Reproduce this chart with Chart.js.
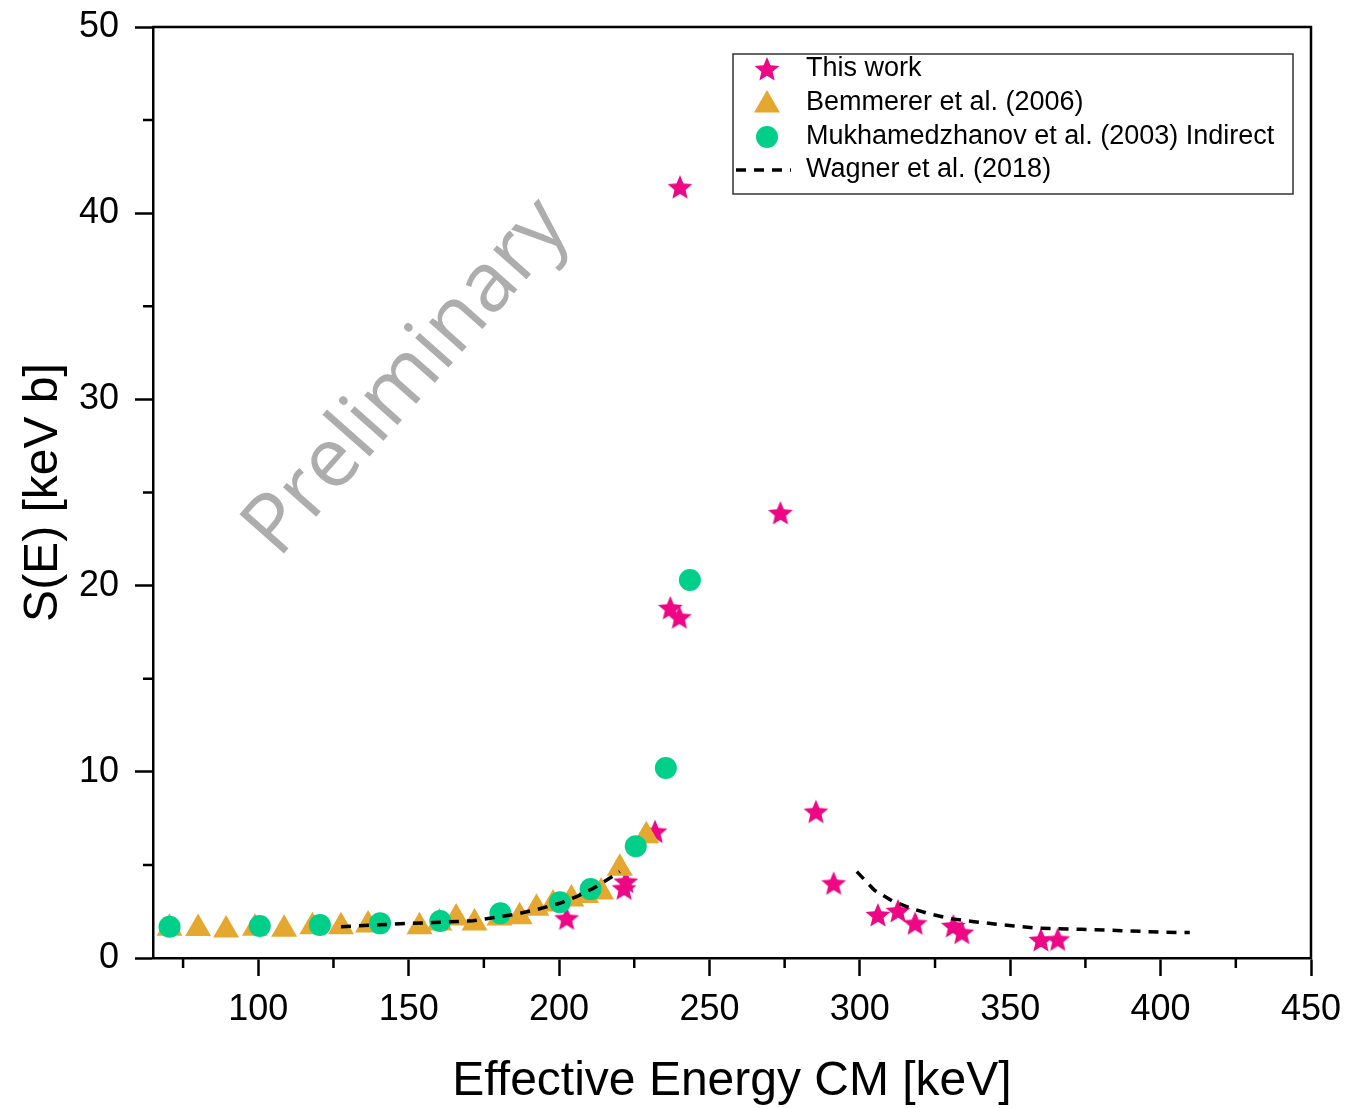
<!DOCTYPE html>
<html lang="en">
  <head>
    <meta charset="UTF-8" />
    <title>S(E) vs effective energy</title>
    <script src="https://cdn.jsdelivr.net/npm/chart.js"></script>
    <style>
      body { margin: 0; background: #fff; }
      #wrap { width: 1350px; height: 1108px; }
    </style>
  </head>
  <body>
    <div id="wrap">
      <canvas id="sfactor-chart" width="1350" height="1108"></canvas>
    </div>

    <script>
      // This work
      const thisWorkE = [202.5, 221.6, 222.2, 231.9, 237, 240, 240.2, 273.6, 285.4, 291.3, 306, 312.7, 318.4, 331.1, 333.9, 360.2, 365.8];
      const thisWorkS = [2.13, 3.74, 4.1, 6.79, 18.8, 18.3, 41.4, 23.9, 7.86, 4.01, 2.31, 2.53, 1.86, 1.72, 1.36, 0.97, 1.0];

      // Bemmerer et al. (2006)
      const bemmererE = [70.5, 80, 89.3, 98.9, 108.6, 118, 127.5, 136.5, 153.6, 160.2, 165.8, 171.9, 180.2, 186.9, 192.5, 198, 204.1, 209, 214, 220.2, 229];
      const bemmererS = [1.6, 1.59, 1.5, 1.6, 1.54, 1.68, 1.68, 1.77, 1.68, 1.88, 2.15, 1.88, 2.15, 2.22, 2.67, 2.9, 3.17, 3.35, 3.55, 4.82, 6.57];

      // Mukhamedzhanov et al. (2003), indirect
      const mukhE = [70.5, 100.5, 120.5, 140.5, 160.5, 180.5, 200.3, 210.5, 225.5, 235.5, 243.5];
      const mukhS = [1.68, 1.72, 1.77, 1.86, 1.99, 2.4, 3.0, 3.7, 6.0, 10.2, 20.3];

      // Wagner et al. (2018), below and above the resonance
      const wagnerLowE = [127.5, 140, 149.2, 158, 171.3, 179.1, 185.8, 192, 200.2, 205.8, 211.3, 216, 220.2];
      const wagnerLowS = [1.68, 1.78, 1.86, 1.9, 2.0, 2.19, 2.36, 2.58, 2.94, 3.29, 3.74, 4.2, 4.64];
      const wagnerHighE = [299, 304.8, 310.8, 317, 323.6, 330.8, 338, 344.7, 351.3, 359.1, 373.6, 387, 401.3, 409.7];
      const wagnerHighS = [4.64, 3.65, 3.06, 2.67, 2.35, 2.1, 1.95, 1.83, 1.72, 1.6, 1.54, 1.47, 1.38, 1.37];

      const xTicks = [100, 150, 200, 250, 300, 350, 400, 450];
      const xMinor = [75, 125, 175, 225, 275, 325, 375, 425];
      const yTicks = [0, 10, 20, 30, 40, 50];
      const yMinor = [5, 15, 25, 35, 45];

      const FONT = "'Liberation Sans', Arial, sans-serif";
      const STAR = "#ee0684";
      const GOLD = "#e4a830";
      const GREEN = "#00cf8a";

      // filled five-point star used as a point style
      function makeStar(r, color) {
        const s = Math.ceil(r * 2 + 2);
        const c = document.createElement("canvas");
        c.width = s;
        c.height = s;
        const g = c.getContext("2d");
        g.fillStyle = color;
        g.beginPath();
        for (let i = 0; i < 10; i++) {
          const rad = i % 2 ? r * 0.45 : r;
          const a = -Math.PI / 2 + (i * Math.PI) / 5;
          g.lineTo(s / 2 + rad * Math.cos(a), s / 2 + 1 + rad * Math.sin(a));
        }
        g.closePath();
        g.fill();
        return c;
      }
      const starImg = makeStar(13, STAR);

      const pts = (xs, ys) => xs.map((x, i) => ({ x: x, y: ys[i] }));
      const wagnerData = pts(wagnerLowE, wagnerLowS)
        .concat([{ x: 260, y: null }])
        .concat(pts(wagnerHighE, wagnerHighS));

      // minor ticks, the box frame and the watermark
      const extras = {
        id: "extras",
        beforeDatasetsDraw(chart) {
          const { ctx, scales } = chart;
          const px = scales.x.getPixelForValue(149.6);
          const py = scales.y.getPixelForValue(31.15);
          ctx.save();
          ctx.translate(px, py);
          ctx.rotate((-48.5 * Math.PI) / 180);
          ctx.font = "83px 'Open Sans', sans-serif";
          ctx.fillStyle = "#adadad";
          ctx.textAlign = "center";
          ctx.textBaseline = "middle";
          ctx.fillText("Preliminary", 0, 0);
          ctx.restore();
        },
        afterDraw(chart) {
          const { ctx, chartArea: a, scales } = chart;
          ctx.save();
          ctx.strokeStyle = "#000";
          ctx.lineWidth = 2.5;
          ctx.beginPath();
          xMinor.forEach((v) => {
            const p = scales.x.getPixelForValue(v);
            ctx.moveTo(p, a.bottom);
            ctx.lineTo(p, a.bottom + 10);
          });
          yMinor.forEach((v) => {
            const p = scales.y.getPixelForValue(v);
            ctx.moveTo(a.left, p);
            ctx.lineTo(a.left - 10, p);
          });
          ctx.moveTo(a.left - 1, a.top);
          ctx.lineTo(a.right, a.top);
          ctx.lineTo(a.right, a.bottom + 1);
          ctx.stroke();
          ctx.restore();
        },
      };

      // legend box in the upper right of the plot
      const boxLegend = {
        id: "boxLegend",
        afterDraw(chart) {
          const { ctx, chartArea: a } = chart;
          const w = 560, h = 140;
          const left = a.right - 18 - w;
          const top = a.top + 27;
          ctx.save();
          ctx.strokeStyle = "#333";
          ctx.lineWidth = 1.5;
          ctx.strokeRect(left, top, w, h);
          const rows = [15, 49, 83, 116];
          const sx = left + 34;
          ctx.font = "27px " + FONT;
          ctx.fillStyle = "#000";
          ctx.textBaseline = "middle";
          chart.data.datasets.forEach((ds, i) => {
            const y = top + rows[i];
            if (ds.pointStyle instanceof HTMLCanvasElement) {
              ctx.drawImage(ds.pointStyle, sx - ds.pointStyle.width / 2, y - ds.pointStyle.height / 2);
            } else if (ds.pointStyle === "triangle") {
              const r = ds.pointRadius;
              ctx.fillStyle = ds.backgroundColor;
              ctx.beginPath();
              ctx.moveTo(sx, y - r + 2);
              ctx.lineTo(sx + r * 0.866, y + r / 2 + 2);
              ctx.lineTo(sx - r * 0.866, y + r / 2 + 2);
              ctx.closePath();
              ctx.fill();
            } else if (ds.pointStyle === "circle") {
              ctx.fillStyle = ds.backgroundColor;
              ctx.beginPath();
              ctx.arc(sx, y, ds.pointRadius, 0, Math.PI * 2);
              ctx.fill();
            } else {
              ctx.strokeStyle = ds.borderColor;
              ctx.lineWidth = ds.borderWidth;
              ctx.setLineDash(ds.borderDash);
              ctx.beginPath();
              ctx.moveTo(left + 3, y);
              ctx.lineTo(left + 58, y);
              ctx.stroke();
              ctx.setLineDash([]);
            }
            ctx.fillStyle = "#000";
            ctx.fillText(ds.label, left + 73, y);
          });
          ctx.restore();
        },
      };

      const ctx = document.getElementById("sfactor-chart").getContext("2d");
      new Chart(ctx, {
        type: "scatter",
        data: {
          datasets: [
            {
              label: "This work",
              data: pts(thisWorkE, thisWorkS),
              pointStyle: starImg,
              pointRadius: 13,
              backgroundColor: STAR,
              borderColor: STAR,
              pointBorderWidth: 0,
              order: 4,
            },
            {
              label: "Bemmerer et al. (2006)",
              data: pts(bemmererE, bemmererS),
              pointStyle: "triangle",
              pointRadius: 15,
              backgroundColor: GOLD,
              borderColor: GOLD,
              pointBorderWidth: 0,
              order: 3,
            },
            {
              label: "Mukhamedzhanov et al. (2003) Indirect",
              data: pts(mukhE, mukhS),
              pointStyle: "circle",
              pointRadius: 11,
              backgroundColor: GREEN,
              borderColor: GREEN,
              pointBorderWidth: 0,
              order: 2,
            },
            {
              label: "Wagner et al. (2018)",
              data: wagnerData,
              showLine: true,
              spanGaps: false,
              pointRadius: 0,
              borderColor: "#000",
              borderWidth: 3.5,
              borderDash: [10, 8],
              order: 1,
            },
          ],
        },
        options: {
          responsive: false,
          animation: false,
          events: [],
          layout: { padding: { top: 27, right: 39, left: 0, bottom: 0 } },
          plugins: { legend: { display: false }, tooltip: { enabled: false } },
          scales: {
            x: {
              type: "linear",
              min: 65,
              max: 450,
              afterBuildTicks: (s) => { s.ticks = xTicks.map((v) => ({ value: v })); },
              afterFit: (s) => {
                s.height = 150;
                s.paddingLeft = 0;
                s.paddingRight = 0;
              },
              grid: { drawOnChartArea: false, drawTicks: true, tickLength: 18, tickWidth: 2.5, tickColor: "#000" },
              border: { display: true, color: "#000", width: 2.5 },
              ticks: { color: "#000", font: { family: FONT, size: 36 }, padding: 12, autoSkip: false, maxRotation: 0 },
              title: {
                display: true,
                text: "Effective Energy CM [keV]",
                color: "#000",
                font: { family: FONT, size: 48 },
                padding: { top: 0, bottom: -3 },
              },
            },
            y: {
              type: "linear",
              min: 0,
              max: 50,
              afterBuildTicks: (s) => { s.ticks = yTicks.map((v) => ({ value: v })); },
              afterFit: (s) => {
                s.width = 153;
                s.paddingTop = 0;
                s.paddingBottom = 0;
              },
              grid: { drawOnChartArea: false, drawTicks: true, tickLength: 18, tickWidth: 2.5, tickColor: "#000" },
              border: { display: true, color: "#000", width: 2.5 },
              ticks: { color: "#000", font: { family: FONT, size: 36 }, padding: 16 },
              title: {
                display: true,
                text: "S(E) [keV b]",
                color: "#000",
                font: { family: FONT, size: 48 },
                padding: { top: 15, bottom: 0 },
              },
            },
          },
        },
        plugins: [extras, boxLegend],
      });
    </script>
  </body>
</html>
